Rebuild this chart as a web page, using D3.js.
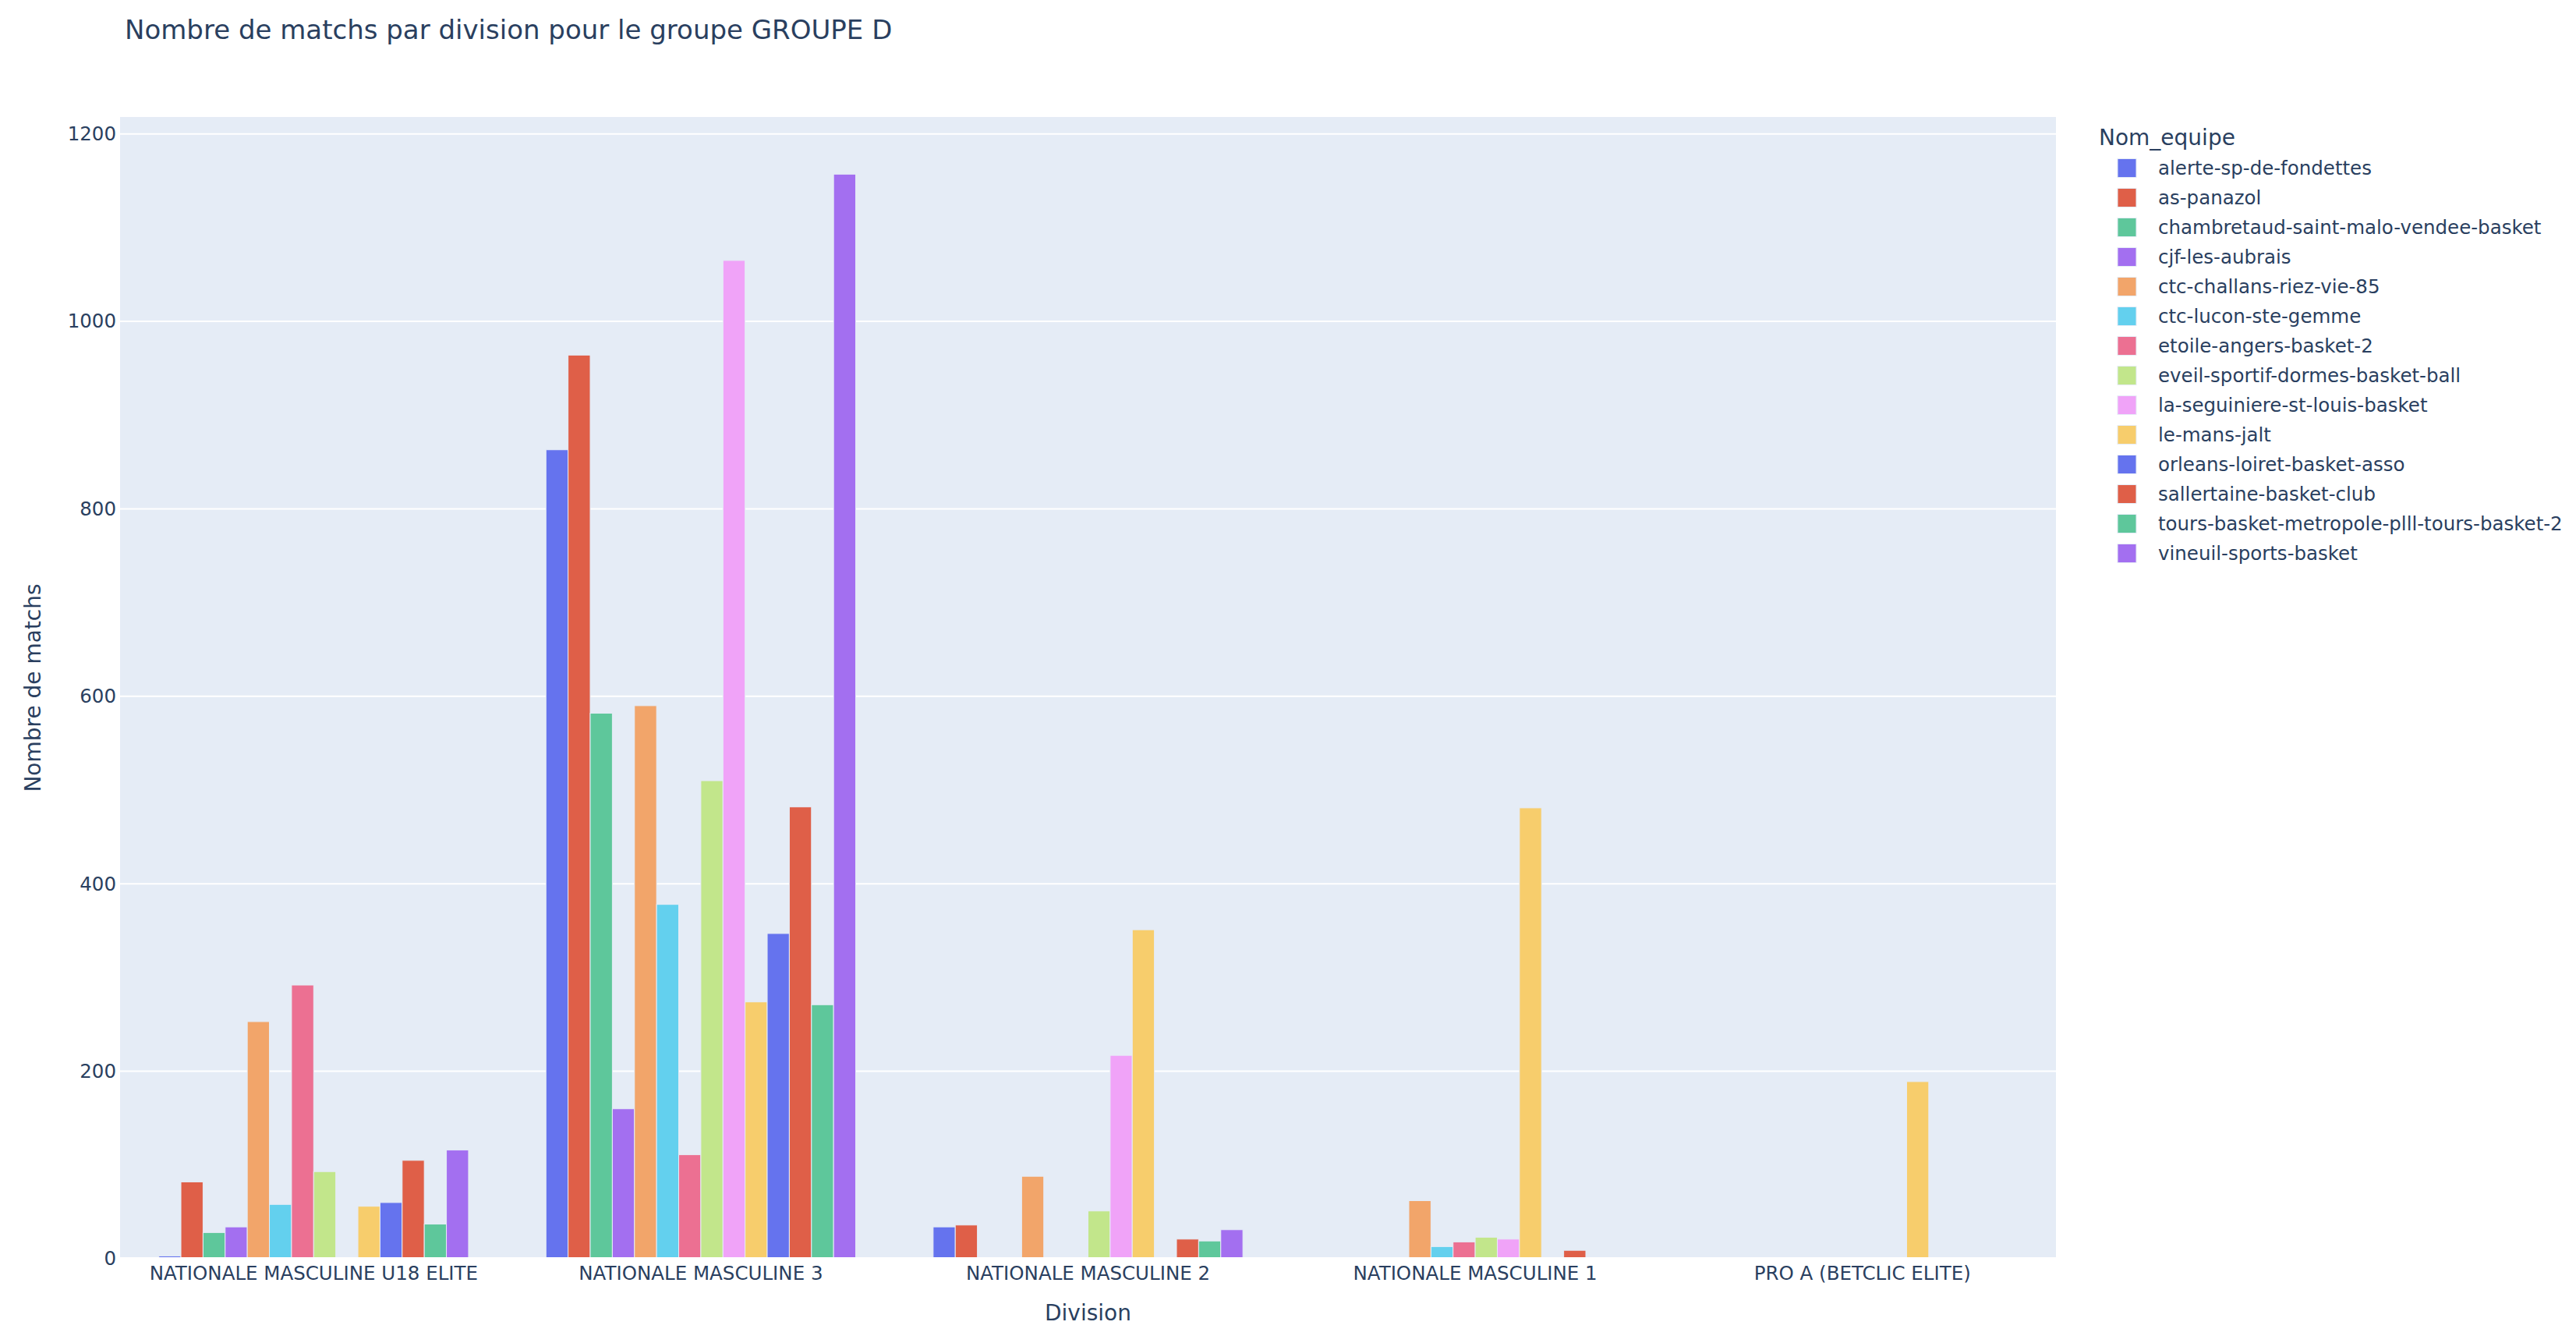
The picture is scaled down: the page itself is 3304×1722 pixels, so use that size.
<!DOCTYPE html>
<html>
<head>
<meta charset="utf-8">
<script src="https://cdn.jsdelivr.net/npm/d3@7"></script>
<style>
  html, body { margin: 0; padding: 0; background: #fff; }
  svg { display: block; font-family: "DejaVu Sans", verdana, arial, sans-serif; }
</style>
</head>
<body>
<svg id="chart" width="3304" height="1722"></svg>
<script>
// ---------- data ----------
const divisions = [
  "NATIONALE MASCULINE U18 ELITE",
  "NATIONALE MASCULINE 3",
  "NATIONALE MASCULINE 2",
  "NATIONALE MASCULINE 1",
  "PRO A (BETCLIC ELITE)"
];
const teams = [
  "alerte-sp-de-fondettes",
  "as-panazol",
  "chambretaud-saint-malo-vendee-basket",
  "cjf-les-aubrais",
  "ctc-challans-riez-vie-85",
  "ctc-lucon-ste-gemme",
  "etoile-angers-basket-2",
  "eveil-sportif-dormes-basket-ball",
  "la-seguiniere-st-louis-basket",
  "le-mans-jalt",
  "orleans-loiret-basket-asso",
  "sallertaine-basket-club",
  "tours-basket-metropole-plll-tours-basket-2",
  "vineuil-sports-basket"
];
const teamColors = [
  "#6573ee", "#df5f48", "#5ec79b", "#a36ff0", "#f2a56a",
  "#63d0ee", "#ec7092", "#c2e68b", "#f0a3f8", "#f7cd6c",
  "#6573ee", "#df5f48", "#5ec79b", "#a36ff0"
];
// values per team (same order as teams), one array per division
const u18Values  = [3, 82, 28, 34, 253, 58, 292, 93, 0, 56, 60, 105, 37, 116];
const nm3Values  = [863, 964, 582, 160, 590, 378, 111, 510, 1065, 274, 347, 482, 271, 1157];
const nm2Values  = [34, 36, 0, 0, 88, 0, 0, 51, 217, 351, 0, 21, 19, 31];
const nm1Values  = [0, 0, 0, 0, 62, 13, 18, 23, 21, 481, 0, 9, 0, 0];
const proAValues = [0, 0, 0, 0, 0, 0, 0, 0, 0, 189, 0, 0, 0, 0];
const yTicks = [0, 200, 400, 600, 800, 1000, 1200];
const yMax = 1218;

const valuesByDivision = [u18Values, nm3Values, nm2Values, nm1Values, proAValues];

const titleText = "Nombre de matchs par division pour le groupe GROUPE D";
const xTitle = "Division";
const yTitle = "Nombre de matchs";
const legendTitle = "Nom_equipe";

// ---------- layout ----------
const FONT = '"DejaVu Sans", verdana, arial, sans-serif';
const svg = d3.select("#chart");
const plot = { left: 154, right: 2637, top: 150, bottom: 1614 };
const textColor = "#2a3f5f";
const TICK_SIZE = 24.5;

svg.append("rect")
  .attr("x", plot.left).attr("y", plot.top)
  .attr("width", plot.right - plot.left).attr("height", plot.bottom - plot.top)
  .attr("fill", "#E5ECF6");

const x0 = d3.scaleBand().domain(divisions)
  .range([plot.left, plot.right]).paddingInner(0.2).paddingOuter(0.1);
const x1 = d3.scaleBand().domain(teams).range([0, x0.bandwidth()]).padding(0);
const y = d3.scaleLinear().domain([0, yMax]).range([plot.bottom, plot.top]);

// y axis labels
const yAxis = d3.axisLeft(y).tickValues(yTicks).tickFormat(d3.format("d")).tickSize(0).tickPadding(5);
const gAxis = svg.append("g").attr("transform", `translate(${plot.left},0)`).call(yAxis);
gAxis.select(".domain").remove();
gAxis.selectAll("text")
  .attr("fill", textColor).attr("font-size", TICK_SIZE)
  .attr("font-family", FONT);

// gridlines
svg.append("g").selectAll("line").data(yTicks.filter(d => d > 0)).join("line")
  .attr("x1", plot.left).attr("x2", plot.right)
  .attr("y1", d => y(d)).attr("y2", d => y(d))
  .attr("stroke", "#fff").attr("stroke-width", 2);

// bars
const rows = [];
divisions.forEach((div, i) => {
  teams.forEach((t, j) => {
    const v = valuesByDivision[i][j];
    if (v > 0) rows.push({ div, team: t, value: v, color: teamColors[j] });
  });
});

svg.append("g").selectAll("rect").data(rows).join("rect")
  .attr("x", d => x0(d.div) + x1(d.team))
  .attr("width", x1.bandwidth())
  .attr("y", d => y(d.value))
  .attr("height", d => y(0) - y(d.value))
  .attr("fill", d => d.color)
  .attr("stroke", "#E5ECF6").attr("stroke-width", 1);

// zero line
svg.append("line")
  .attr("x1", plot.left).attr("x2", plot.right)
  .attr("y1", y(0)).attr("y2", y(0))
  .attr("stroke", "#fff").attr("stroke-width", 4);

// x axis labels
const xAxis = d3.axisBottom(x0).tickSize(0).tickPadding(10);
const gx = svg.append("g").attr("transform", `translate(0,${plot.bottom})`).call(xAxis);
gx.select(".domain").remove();
gx.selectAll("text")
  .attr("fill", textColor).attr("font-size", TICK_SIZE)
  .attr("font-family", FONT);

// titles
svg.append("text").attr("x", 160).attr("y", 50)
  .attr("fill", textColor).attr("font-size", 34).text(titleText);

svg.append("text")
  .attr("x", (plot.left + plot.right) / 2).attr("y", 1693)
  .attr("text-anchor", "middle").attr("fill", textColor).attr("font-size", 28)
  .text(xTitle);

svg.append("text")
  .attr("transform", `translate(52,${(plot.top + plot.bottom) / 2}) rotate(-90)`)
  .attr("text-anchor", "middle").attr("fill", textColor).attr("font-size", 28)
  .text(yTitle);

// legend
const legend = svg.append("g");
legend.append("text").attr("x", 2692).attr("y", 176).attr("dy", "0.35em")
  .attr("fill", textColor).attr("font-size", 28).text(legendTitle);

const items = legend.selectAll("g.item").data(teams).join("g")
  .attr("class", "item")
  .attr("transform", (d, i) => `translate(0,${215.5 + i * 38})`);
items.append("rect")
  .attr("x", 2716).attr("y", -12).attr("width", 24).attr("height", 24)
  .attr("fill", (d, i) => teamColors[i])
  .attr("stroke", "#E5ECF6").attr("stroke-width", 1);
items.append("text")
  .attr("x", 2768).attr("dy", "0.35em")
  .attr("fill", textColor).attr("font-size", TICK_SIZE)
  .text(d => d);
</script>
</body>
</html>
